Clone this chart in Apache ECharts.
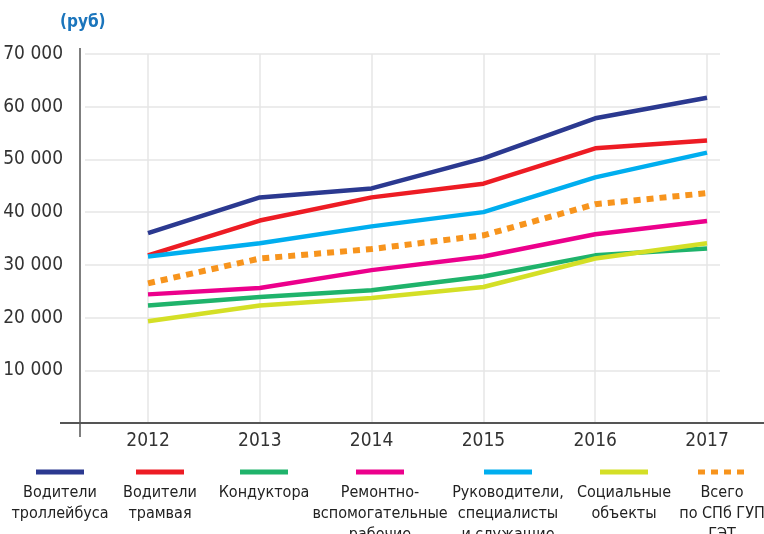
<!DOCTYPE html>
<html>
<head>
<meta charset="utf-8">
<style>
  html, body { margin: 0; padding: 0; background: #fff; }
  #chart { width: 764px; height: 534px; }
</style>
<script src="https://cdn.jsdelivr.net/npm/echarts@6/dist/echarts.min.js"></script>
</head>
<body>
<div id="chart"></div>
<script>
// data
var years = [2012, 2013, 2014, 2015, 2016, 2017];
var trolleyDrivers = [36000, 42800, 44500, 50200, 57800, 61700];
var tramDrivers    = [31800, 38400, 42800, 45400, 52100, 53600];
var conductors     = [22300, 23900, 25200, 27800, 31800, 33100];
var repairWorkers  = [24400, 25600, 29000, 31600, 35800, 38300];
var managers       = [31600, 34100, 37300, 40000, 46600, 51300];
var socialObjects  = [19300, 22300, 23700, 25800, 31200, 34100];
var totalGet       = [26500, 31200, 33000, 35600, 41500, 43600];
var yTicks = [0, 10000, 20000, 30000, 40000, 50000, 60000, 70000];

var names = [
  'Водители\nтроллейбуса',
  'Водители\nтрамвая',
  'Кондуктора',
  'Ремонтно-\nвспомогательные\nрабочие',
  'Руководители,\nспециалисты\nи служащие',
  'Социальные\nобъекты',
  'Всего\nпо СПб ГУП\nГЭТ'
];
var colors = ['#2b3990', '#ed1c24', '#1fb36b', '#ec008c', '#00aeef', '#d4df26', '#f7941d'];
var allData = [trolleyDrivers, tramDrivers, conductors, repairWorkers, managers, socialObjects, totalGet];
var legendX = [60, 160, 264, 380, 508, 624, 722];

var font = "'Liberation Sans Narrow', 'DejaVu Sans Condensed', sans-serif";

function pairs(vals) {
  return vals.map(function (v, i) { return [years[i], v]; });
}
function spaced(v) {
  return String(v).replace(/\B(?=(\d{3})+(?!\d))/g, ' ');
}

var series = allData.map(function (vals, i) {
  var last = i === allData.length - 1;
  return {
    name: names[i].replace(/\n/g, ' '),
    type: 'line',
    data: pairs(vals),
    symbol: 'none',
    z: last ? 5 : 3,
    lineStyle: {
      color: colors[i],
      width: last ? 6 : 4.5,
      type: last ? [7, 6] : 'solid',
      cap: 'butt'
    }
  };
});

var graphic = [
  { type: 'line', shape: { x1: 80, y1: 48, x2: 80, y2: 437 }, style: { stroke: '#555', lineWidth: 1.5 }, z: 10 },
  { type: 'line', shape: { x1: 60, y1: 423, x2: 764, y2: 423 }, style: { stroke: '#555', lineWidth: 2 }, z: 10 },
  { type: 'text', left: 60, top: 14,
    style: { text: '(руб)', fill: '#1b75bc', font: 'bold 17px ' + font } }
];
names.forEach(function (n, i) {
  graphic.push({
    type: 'line',
    shape: { x1: legendX[i] - 24, y1: 472, x2: legendX[i] + 24, y2: 472 },
    style: { stroke: colors[i], lineWidth: 5, lineDash: i === 6 ? [7, 6] : null }
  });
  graphic.push({
    type: 'text', x: legendX[i], y: 482,
    style: { text: n, fill: '#222', font: '16px ' + font, align: 'center', verticalAlign: 'top', lineHeight: 21 }
  });
});

var chart = echarts.init(document.getElementById('chart'));
chart.setOption({
  animation: false,
  grid: { left: 85, right: 44, top: 54, bottom: 111 },
  xAxis: {
    type: 'value',
    min: 2011.4365,
    max: 2017.116,
    axisLine: { show: false },
    axisTick: { show: false, customValues: years },
    splitLine: { show: true, lineStyle: { color: '#e6e6e6', width: 1.5 } },
    axisLabel: {
      customValues: years,
      margin: 9,
      color: '#333',
      fontSize: 19,
      fontFamily: font,
      formatter: function (v) { return String(v); }
    }
  },
  yAxis: {
    type: 'value',
    min: yTicks[0],
    max: yTicks[yTicks.length - 1],
    interval: yTicks[1] - yTicks[0],
    offset: 5,
    axisLine: { show: false },
    axisTick: { show: false },
    splitLine: { lineStyle: { color: '#e6e6e6', width: 1.5 } },
    axisLabel: {
      margin: 17,
      color: '#333',
      fontSize: 19,
      fontFamily: font,
      formatter: function (v) { return v === 0 ? '' : spaced(v); }
    }
  },
  graphic: graphic,
  series: series
});
</script>
</body>
</html>
